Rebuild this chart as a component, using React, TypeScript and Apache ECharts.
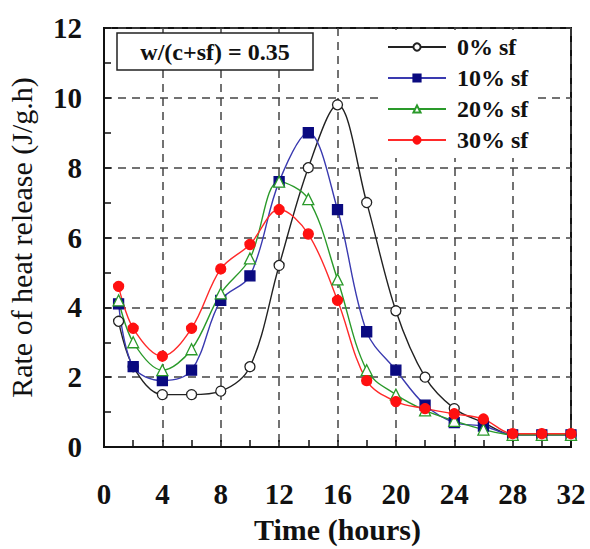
import React, { useEffect, useRef } from "react";
import * as echarts from "echarts";

const times = [1, 2, 4, 6, 8, 10, 12, 14, 16, 18, 20, 22, 24, 26, 28, 30, 32];
const sf0 = [3.6, 2.3, 1.5, 1.5, 1.6, 2.3, 5.2, 8.0, 9.8, 7.0, 3.9, 2.0, 1.1, 0.7, 0.35, 0.35, 0.35];
const sf10 = [4.1, 2.3, 1.9, 2.2, 4.2, 4.9, 7.6, 9.0, 6.8, 3.3, 2.2, 1.2, 0.7, 0.6, 0.35, 0.35, 0.35];
const sf20 = [4.2, 3.0, 2.2, 2.8, 4.4, 5.4, 7.6, 7.1, 4.8, 2.2, 1.5, 1.05, 0.75, 0.5, 0.35, 0.35, 0.35];
const sf30 = [4.6, 3.4, 2.6, 3.4, 5.1, 5.8, 6.8, 6.1, 4.2, 1.9, 1.3, 1.1, 0.95, 0.8, 0.38, 0.38, 0.38];
const seriesNames = ["0% sf", "10% sf", "20% sf", "30% sf"];
const ratioLabel = "w/(c+sf) = 0.35";

const FONT = "'Liberation Serif', 'Times New Roman', serif";

export default function App() {
  const ref = useRef<HTMLDivElement>(null);
  useEffect(() => {
    document.body.style.margin = "0";
    document.body.style.overflow = "hidden";
    if (!ref.current) return;
    const chart = echarts.init(ref.current, undefined, { renderer: "svg" });
    const pts = (v: number[]) => times.map((t, i) => [t, v[i]]);
    const mk = (name: string, data: number[], color: string, symbol: string, symbolColor: string, fill: string) => ({
      name,
      type: "line",
      data: pts(data),
      smooth: 0.35,
      symbol,
      symbolSize: symbol === "triangle" ? 11 : 10,
      lineStyle: { color, width: 1.4, type: "solid" },
      itemStyle: { color: fill, borderColor: symbolColor, borderWidth: 1.3 },
    });
    chart.setOption({
      animation: false,
      textStyle: { fontFamily: FONT },
      grid: {
        left: 104,
        right: 19,
        top: 28,
        bottom: 102,
        show: true,
        borderColor: "#111",
        borderWidth: 2,
        backgroundColor: "transparent",
        outerBoundsMode: "none",
      },
      xAxis: {
        type: "value",
        min: 0,
        max: 32,
        interval: 4,
        name: "Time (hours)",
        nameLocation: "middle",
        nameGap: 67,
        nameTextStyle: { fontFamily: FONT, fontSize: 30, fontWeight: "bold", color: "#111" },
        axisLine: { show: true, lineStyle: { color: "#111", width: 2 } },
        axisTick: { show: true, inside: true, length: 7, lineStyle: { color: "#111", width: 1.5 } },
        minorTick: { show: true, splitNumber: 2, length: 7, lineStyle: { color: "#111", width: 1.5 } },
        axisLabel: { margin: 32, fontFamily: FONT, fontSize: 29, fontWeight: "bold", color: "#111" },
        splitLine: { show: true, lineStyle: { color: "#444", width: 1.5, type: [8, 6] } },
      },
      yAxis: {
        type: "value",
        min: 0,
        max: 12,
        interval: 2,
        name: "Rate of heat release (J/g.h)",
        nameLocation: "middle",
        nameGap: 68,
        nameTextStyle: { fontFamily: FONT, fontSize: 30, color: "#111" },
        axisLine: { show: true, lineStyle: { color: "#111", width: 2 } },
        axisTick: { show: true, inside: true, length: 7, lineStyle: { color: "#111", width: 1.5 } },
        minorTick: { show: true, splitNumber: 2, length: 7, lineStyle: { color: "#111", width: 1.5 } },
        axisLabel: { margin: 22, fontFamily: FONT, fontSize: 29, fontWeight: "bold", color: "#111" },
        splitLine: { show: true, lineStyle: { color: "#444", width: 1.5, type: [8, 6] } },
      },
      legend: {
        orient: "vertical",
        left: 379,
        top: 30,
        itemWidth: 58,
        itemHeight: 9,
        itemGap: 7,
        padding: [5, 8, 6, 8],
        backgroundColor: "#fff",
        data: seriesNames,
        textStyle: { fontFamily: FONT, fontSize: 24, fontWeight: "bold", color: "#111", padding: [0, 0, 0, 6] },
      },
      graphic: [
        {
          type: "rect",
          shape: { x: 117, y: 33, width: 196, height: 37 },
          style: { fill: "#fff", stroke: "#222", lineWidth: 1.5 },
          z: 100,
        },
        {
          type: "text",
          x: 215,
          y: 52,
          style: {
            text: ratioLabel,
            fontFamily: FONT,
            fontSize: 24,
            fontWeight: "bold",
            fill: "#111",
            align: "center",
            verticalAlign: "middle",
          },
          z: 101,
        },
      ],
      series: [
        mk(seriesNames[0], sf0, "#222", "circle", "#222", "#fff"),
        mk(seriesNames[1], sf10, "#3a3ab0", "rect", "#0a0a80", "#0a0a80"),
        mk(seriesNames[2], sf20, "#2a9a2a", "triangle", "#2a9a2a", "#fff"),
        mk(seriesNames[3], sf30, "#ff2a2a", "circle", "#ff1010", "#ff1010"),
      ],
    });
    return () => chart.dispose();
  }, []);
  return <div ref={ref} style={{ width: 590, height: 549 }} />;
}
